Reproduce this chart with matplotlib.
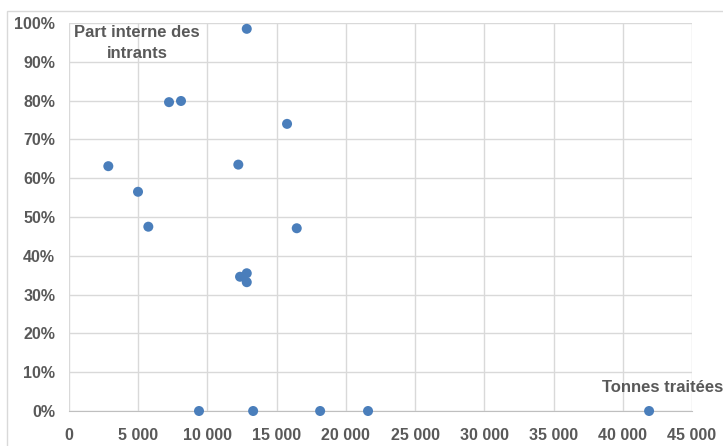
import matplotlib.pyplot as plt
from matplotlib.patches import Rectangle
from matplotlib.ticker import FuncFormatter, MultipleLocator

plt.rcParams['font.family'] = ['Liberation Sans', 'DejaVu Sans']

# tonnes traitées vs part interne des intrants
tonnes = [12840, 7225, 8090, 15750, 2840, 12230, 4985, 5730, 16450,
          12355, 12840, 12840, 9390, 13300, 18140, 21600, 41900]
part_interne = [0.985, 0.796, 0.799, 0.740, 0.631, 0.635, 0.565, 0.475, 0.471,
                0.346, 0.355, 0.332, 0.0, 0.0, 0.0, 0.0, 0.0]

grey = '#595959'

fig = plt.figure(figsize=(7.23, 4.46), dpi=100)
ax = fig.add_axes([69 / 723, 1 - 411 / 446, (692 - 69) / 723, (411 - 23) / 446])

ax.scatter(tonnes, part_interne, s=52, color='#4a7ebb', zorder=3,
           edgecolors='none', clip_on=False)

ax.set_xlim(0, 45000)
ax.set_ylim(0, 1)
ax.xaxis.set_major_locator(MultipleLocator(5000))
ax.yaxis.set_major_locator(MultipleLocator(0.1))
ax.xaxis.set_major_formatter(FuncFormatter(lambda v, p: f'{int(v):,}'.replace(',', ' ')))
ax.yaxis.set_major_formatter(FuncFormatter(lambda v, p: f'{v * 100:.0f}%'))

ax.grid(True, color='#d9d9d9', linewidth=1)
ax.set_axisbelow(True)
for side in ['top', 'right', 'left']:
    ax.spines[side].set_visible(False)
ax.spines['bottom'].set_color('#bfbfbf')
ax.tick_params(length=0, labelsize=11.5, labelcolor=grey)
ax.tick_params(axis='x', pad=12)
ax.tick_params(axis='y', pad=10)
for lab in ax.get_xticklabels() + ax.get_yticklabels():
    lab.set_fontweight('bold')

# axis titles placed inside the plot area
ax.text(137 / 723, 1 - 43 / 446, 'Part interne des\nintrants', transform=fig.transFigure,
        ha='center', va='center', fontsize=12, fontweight='bold', color=grey,
        linespacing=1.45)
ax.text(723 / 723, 1 - 387 / 446, 'Tonnes traitées', transform=fig.transFigure,
        ha='right', va='center', fontsize=12, fontweight='bold', color=grey)

# chart area border
fig.patches.append(Rectangle((7 / 723, -0.01), 1, 1 - 11 / 446 + 0.01,
                             transform=fig.transFigure, fill=False,
                             edgecolor='#d9d9d9', linewidth=1))

fig.savefig('out.png', dpi=100)
